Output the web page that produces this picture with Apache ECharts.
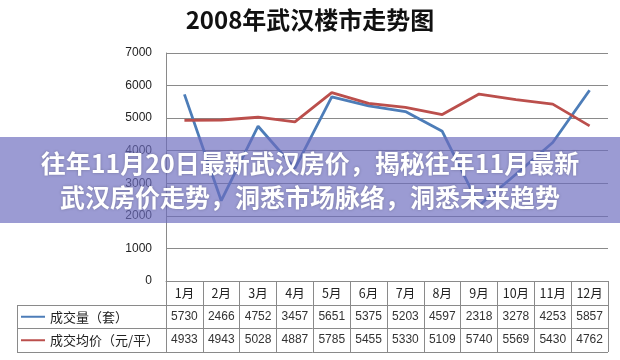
<!DOCTYPE html>
<html>
<head>
<meta charset="utf-8">
<script src="https://cdn.jsdelivr.net/npm/echarts@6/dist/echarts.min.js"></script>
<style>
html,body{margin:0;padding:0;background:#fff;}
#c{width:620px;height:360px;}
</style>
</head>
<body>
<div id="c"></div>
<script>
var titleText = '2008年武汉楼市走势图';
var months = ['1月','2月','3月','4月','5月','6月','7月','8月','9月','10月','11月','12月'];
var volumeName = '成交量（套）';
var priceName = '成交均价（元/平）';
var volume = [5730,2466,4752,3457,5651,5375,5203,4597,2318,3278,4253,5857];
var price = [4933,4943,5028,4887,5785,5455,5330,5109,5740,5569,5430,4762];
var yTicks = [0,1000,2000,3000,4000,5000,6000,7000];
var bannerLines = ['往年11月20日最新武汉房价，揭秘往年11月最新','武汉房价走势，洞悉市场脉络，洞悉未来趋势'];

var chart = echarts.init(document.getElementById('c'), null, {renderer:'canvas'});
var gridCol = '#8a8a8a';
var rowH = 23.5;
var option = {
  animation:false,
  backgroundColor:'#fff',
  color:['#4d7db8','#bb4f4c'],
  title:{
    text:titleText, left:'center', top:8, padding:0,
    textStyle:{fontSize:24, fontWeight:'bold', color:'#111', fontFamily:'"Noto Sans CJK SC", sans-serif'}
  },
  legend:{
    orient:'vertical', left:21, top:305, padding:0, itemGap:0,
    itemWidth:24, itemHeight:2, icon:'rect',
    data:[volumeName, priceName],
    textStyle:{fontSize:13, color:'#222', lineHeight:rowH, height:rowH, fontFamily:'"Noto Sans CJK SC", sans-serif'}
  },
  grid:{left:166, right:12, top:53, bottom:79, containLabel:false},
  xAxis:{
    type:'category', data:months, boundaryGap:true,
    axisLine:{lineStyle:{color:gridCol, width:1}},
    axisTick:{show:true, length:71, interval:0, lineStyle:{color:gridCol, width:1}},
    axisLabel:{
      interval:0, margin:0,
      formatter:function(v, i){ return '{a|' + v + '}\n{b|' + volume[i] + '}\n{b|' + price[i] + '}'; },
      rich:{
        a:{fontSize:12.5, color:'#222', lineHeight:rowH, fontFamily:'"Noto Sans CJK SC", sans-serif'},
        b:{fontSize:12, color:'#333', lineHeight:rowH, fontFamily:'"Liberation Sans", Arial, sans-serif'}
      }
    }
  },
  yAxis:{
    type:'value', min:yTicks[0], max:yTicks[yTicks.length-1], interval:yTicks[1]-yTicks[0],
    axisLine:{show:true, lineStyle:{color:gridCol}},
    axisTick:{show:false},
    splitLine:{lineStyle:{color:gridCol, width:1}},
    axisLabel:{margin:14, fontSize:12, color:'#222', fontFamily:'"Liberation Sans", Arial, sans-serif',
      formatter:function(v){ return String(v); }}
  },
  series:[
    {name:volumeName, type:'line', data:volume, showSymbol:false, symbol:'none', lineStyle:{width:2.8}, z:3},
    {name:priceName, type:'line', data:price, showSymbol:false, symbol:'none', lineStyle:{width:2.8}, z:4}
  ],
  graphic:[
    {type:'line', shape:{x1:17, y1:305.5, x2:608, y2:305.5}, style:{stroke:gridCol, lineWidth:1}, z:5},
    {type:'line', shape:{x1:17, y1:328.5, x2:608, y2:328.5}, style:{stroke:gridCol, lineWidth:1}, z:5},
    {type:'line', shape:{x1:17, y1:352.5, x2:608, y2:352.5}, style:{stroke:gridCol, lineWidth:1}, z:5},
    {type:'line', shape:{x1:17.5, y1:305, x2:17.5, y2:353}, style:{stroke:gridCol, lineWidth:1}, z:5},
    {type:'rect', shape:{x:0, y:137, width:620, height:86}, style:{fill:'rgba(108,108,190,0.68)'}, z:100},
    {type:'text', x:310, y:163, z:101, style:{text:bannerLines[0], align:'center', verticalAlign:'middle', fill:'#fff',
      font:'bold 25px "Noto Sans CJK SC", sans-serif', textShadowColor:'rgba(0,0,0,0.25)', textShadowBlur:3}},
    {type:'text', x:310, y:197, z:101, style:{text:bannerLines[1], align:'center', verticalAlign:'middle', fill:'#fff',
      font:'bold 25px "Noto Sans CJK SC", sans-serif', textShadowColor:'rgba(0,0,0,0.25)', textShadowBlur:3}}
  ]
};
chart.setOption(option);
</script>
</body>
</html>
